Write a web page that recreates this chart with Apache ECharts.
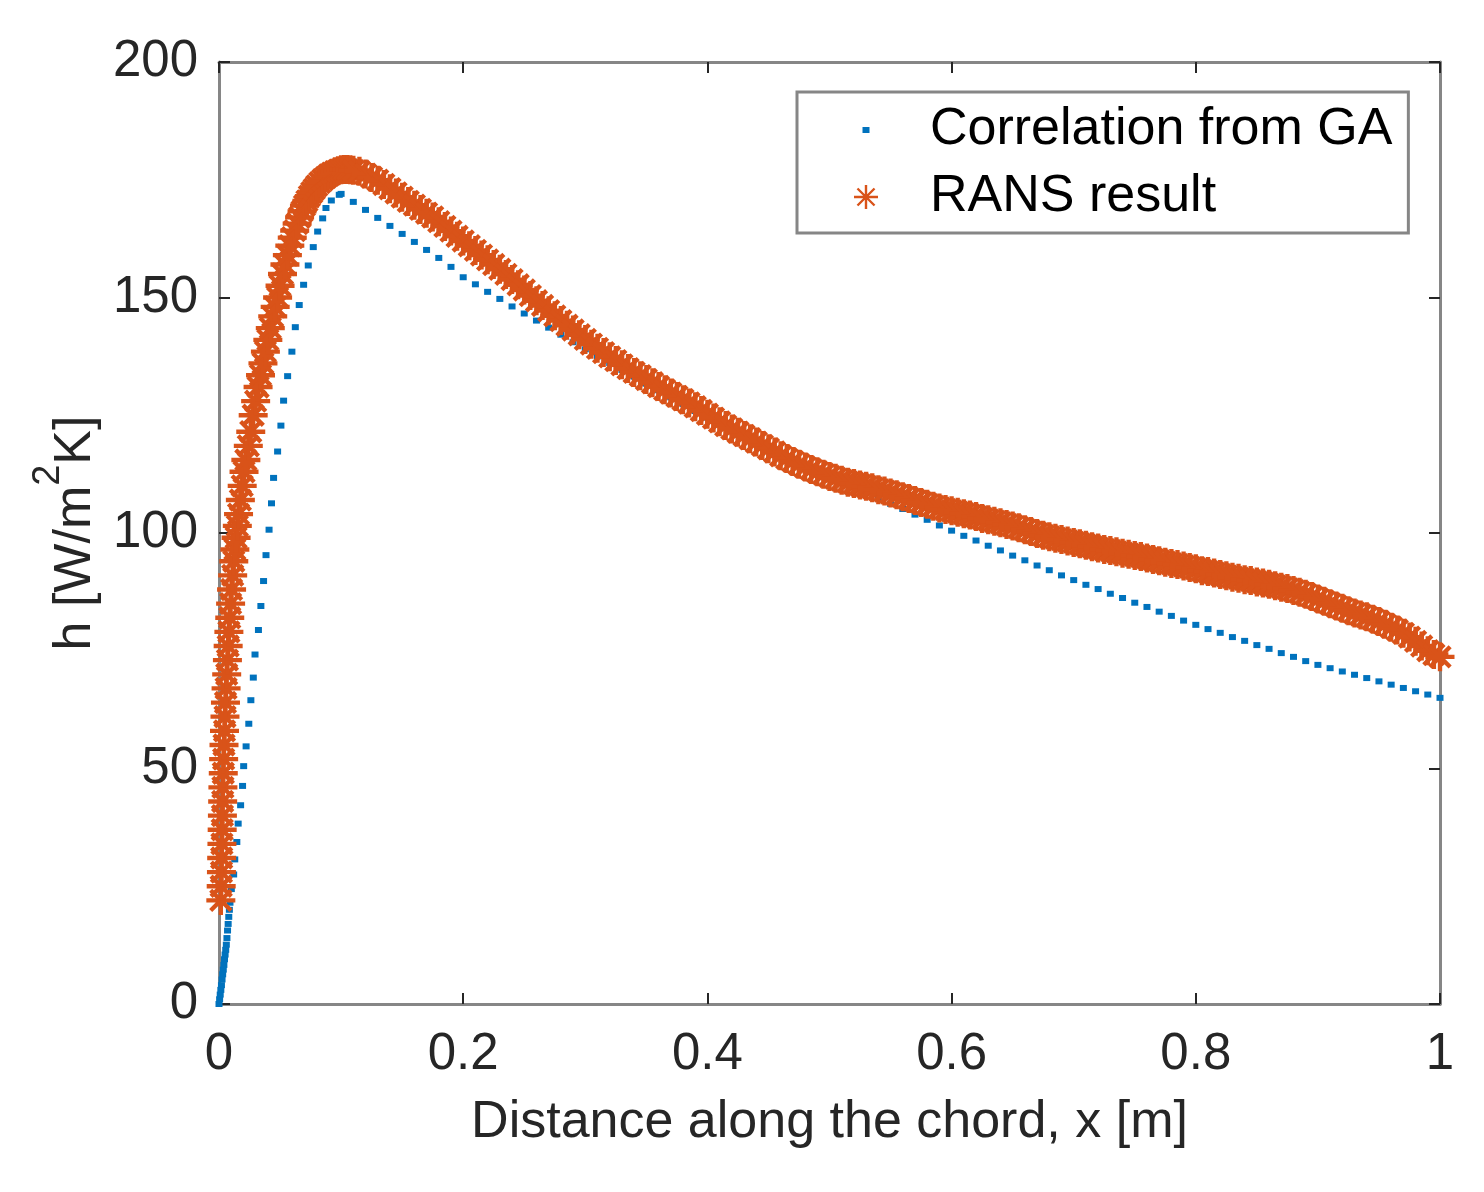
<!DOCTYPE html>
<html>
<head>
<meta charset="utf-8">
<script src="https://cdn.jsdelivr.net/npm/echarts@6/dist/echarts.min.js"></script>
<style>html,body{margin:0;padding:0;background:#fff}#c{width:1484px;height:1192px}</style>
</head>
<body>
<div id="c"></div>
<script>
// ---------- data ----------
const seriesNames = ['Correlation from GA', 'RANS result'];
const xTickValues = [0, 0.2, 0.4, 0.6, 0.8, 1];
const yTickValues = [0, 50, 100, 150, 200];

// Correlation from GA (blue dots)
const corrX = [0,0.0005,0.001,0.0015,0.002,0.0025,0.003,0.0035,0.004,0.0045,0.005,0.0055,0.006,0.0065,0.007,0.0075,0.008,0.0085,0.009,0.0101,
  0.012,0.0129,0.0146,0.0157,0.0177,0.0193,0.0202,0.0222,0.0244,0.0261,0.0281,0.0295,0.0323,0.0343,0.0365,0.0385,0.041,0.043,0.0447,0.048,
  0.0507,0.0529,0.0562,0.0597,0.0625,0.0657,0.0693,0.0731,0.0772,0.0808,0.0849,0.0876,0.092,0.0985,0.1,
  0.11,0.12,0.13,0.14,0.15,0.16,0.17,0.18,0.19,0.20,0.21,0.22,0.23,0.24,0.25,0.26,0.27,0.28,0.29,0.30,
  0.31,0.32,0.33,0.34,0.35,0.36,0.37,0.38,0.39,0.40,0.41,0.42,0.43,0.44,0.45,0.46,0.47,0.48,0.49,0.50,
  0.51,0.52,0.53,0.54,0.55,0.56,0.57,0.58,0.59,0.60,0.61,0.62,0.63,0.64,0.65,0.66,0.67,0.68,0.69,0.70,
  0.71,0.72,0.73,0.74,0.75,0.76,0.77,0.78,0.79,0.80,0.81,0.82,0.83,0.84,0.85,0.86,0.87,0.88,0.89,0.90,
  0.91,0.92,0.93,0.94,0.95,0.96,0.97,0.98,0.99,1.00];
const corrH = [0,1,2,3,4,5.2,6.3,7.3,8.3,9.5,10.5,11.5,12.6,14,15.6,17,18.5,20,21.5,24.4,
  27.5,30.7,34.4,38.3,42.2,46.3,50.5,54.7,59.5,64.5,69.3,74.2,79.4,84.5,89.8,95.3,100.7,106.3,111.7,117.3,
  122.8,128.1,133.3,138.5,143.7,148.4,152.7,156.8,160.7,164,166.8,169,170.6,171.8,172,
  170.3,168.6,166.9,165.2,163.5,161.8,160.1,158.4,156.5,154.3,152.8,151.2,149.7,148.1,146.6,145.1,143.6,142.1,140.5,139.0,
  137.5,136.1,134.6,133.2,131.7,130.3,128.8,127.4,125.9,124.5,123.2,122.0,120.7,119.5,118.2,117.0,115.7,114.5,113.2,112.0,
  110.8,109.7,108.5,107.4,106.2,105.1,103.9,102.8,101.6,100.5,99.4,98.4,97.3,96.3,95.2,94.2,93.1,92.1,91.0,90.0,
  89.0,88.1,87.1,86.2,85.2,84.3,83.3,82.4,81.4,80.5,79.6,78.8,77.9,77.1,76.2,75.4,74.5,73.7,72.8,72.0,
  71.3,70.6,69.9,69.2,68.5,67.8,67.1,66.4,65.7,65.0];

// RANS result (orange asterisks)
const ransX = [0.0015,0.0018,0.002,0.0022,0.0024,0.0026,0.0028,0.003,0.0032,0.0035,0.0038,0.0041,0.0045,0.0049,0.0053,0.0058,0.0063,0.0069,0.0075,0.0081,
  0.0088,0.0095,0.0103,0.0112,0.0121,0.013,0.014,0.015,0.016,0.0175,0.019,0.0205,0.022,0.024,0.026,0.028,0.030,0.032,0.034,0.036,
  0.038,0.040,0.042,0.044,0.046,0.048,0.050,0.052,0.054,0.056,0.058,0.060,0.062,0.064,0.066,0.068,0.070,0.072,0.074,0.076,
  0.078,0.080,0.0825,0.085,0.0875,0.090,0.0925,0.095,0.0975,0.100,0.1025,0.105,0.1075,
  0.110,0.115,0.120,0.125,0.130,0.135,0.140,0.145,0.150,0.155,0.160,0.165,0.170,0.175,0.180,0.185,0.190,0.195,0.200,
  0.205,0.210,0.215,0.220,0.225,0.230,0.235,0.240,0.245,0.250,0.255,0.260,0.265,0.270,0.275,0.280,0.285,0.290,0.295,0.300,
  0.305,0.310,0.315,0.320,0.325,0.330,0.335,0.340,0.345,0.350,0.355,0.360,0.365,0.370,0.375,0.380,0.385,0.390,0.395,0.400,
  0.405,0.410,0.415,0.420,0.425,0.430,0.435,0.440,0.445,0.450,0.455,0.460,0.465,0.470,0.475,0.480,0.485,0.490,0.495,0.500,
  0.505,0.510,0.515,0.520,0.525,0.530,0.535,0.540,0.545,0.550,0.555,0.560,0.565,0.570,0.575,0.580,0.585,0.590,0.595,0.600,
  0.605,0.610,0.615,0.620,0.625,0.630,0.635,0.640,0.645,0.650,0.655,0.660,0.665,0.670,0.675,0.680,0.685,0.690,0.695,0.700,
  0.705,0.710,0.715,0.720,0.725,0.730,0.735,0.740,0.745,0.750,0.755,0.760,0.765,0.770,0.775,0.780,0.785,0.790,0.795,0.800,
  0.805,0.810,0.815,0.820,0.825,0.830,0.835,0.840,0.845,0.850,0.855,0.860,0.865,0.870,0.875,0.880,0.885,0.890,0.895,0.900,
  0.905,0.910,0.915,0.920,0.925,0.930,0.935,0.940,0.945,0.950,0.955,0.960,0.965,0.970,0.975,0.980,0.985,0.990,0.995,1.000];
const ransH = [22,25,28,31,34,37,40,43,46,49,52,55,58,61,64,67,70,73,76,79,
  82,85,88,91,94,96.5,99,101.5,104,107,110,113,115.5,118.5,121.5,125,128,131,133.5,136,
  138.5,141,143.5,146,148,150,152.5,155,157,159,161,162.7,164.2,165.7,167,168.3,169.5,170.5,171.5,172.3,
  173,173.7,174.4,175,175.5,176,176.4,176.7,176.9,177.1,177.2,177.2,177.1,
  177.0,176.8,176.2,175.5,174.9,174.0,173.1,172.2,171.3,170.4,169.6,168.7,167.9,167.1,166.1,165.1,164.1,163.0,162.0,
  161.0,160.0,159.0,158.0,157.0,156.0,154.9,153.8,152.7,151.6,150.4,149.3,148.3,147.2,146.1,145.1,144.1,143.1,142.1,141.1,
  140.1,139.2,138.3,137.4,136.6,135.7,134.9,134.1,133.4,132.6,131.9,131.1,130.4,129.7,129.0,128.3,127.6,126.8,126.0,125.2,
  124.4,123.6,122.8,122.1,121.4,120.7,120.0,119.3,118.6,117.9,117.2,116.4,115.8,115.2,114.6,114.0,113.5,113.0,112.5,112.0,
  111.6,111.2,110.8,110.5,110.2,109.9,109.6,109.2,108.9,108.5,108.1,107.7,107.3,106.9,106.5,106.1,105.7,105.3,105.0,104.7,
  104.4,104.1,103.8,103.5,103.1,102.8,102.5,102.2,101.8,101.5,101.1,100.7,100.3,99.9,99.5,99.2,98.9,98.6,98.3,98.0,
  97.7,97.4,97.1,96.8,96.5,96.3,96.0,95.7,95.5,95.2,95.0,94.7,94.4,94.1,93.8,93.5,93.3,93.0,92.7,92.4,
  92.0,91.8,91.5,91.2,90.9,90.6,90.4,90.1,89.9,89.6,89.4,89.1,88.8,88.5,88.2,87.8,87.4,87.0,86.5,86.0,
  85.5,85.0,84.5,84.0,83.5,83.0,82.6,82.2,81.7,81.2,80.6,80.0,79.4,78.7,77.9,77.0,76.0,75.0,74.2,73.7];

// ---------- styling ----------
const FONT = '"Liberation Sans", Arial, Helvetica, sans-serif';
const TXT = '#262626';
const AXC = '#868686';
const BLUE = '#0072BD';
const ORANGE = '#D95319';
const starPath = 'path://M0,8.5 L20,8.5 L20,11.5 L0,11.5 Z M8.5,0 L11.5,0 L11.5,20 L8.5,20 Z ' +
  'M1.94,4.06 L4.06,1.94 L18.06,15.94 L15.94,18.06 Z M15.94,1.94 L18.06,4.06 L4.06,18.06 L1.94,15.94 Z';
const legendBlueIcon = 'path://M0,0 L0.01,0 L0,0.01 Z M118,30 L117.99,30 L118,29.99 Z M55.5,12 L62.5,12 L62.5,18 L55.5,18 Z';
const legendStarIcon = 'path://M0,0 L0.01,0 L0,0.01 Z M118,30 L117.99,30 L118,29.99 Z ' +
  'M47,13.8 L71,13.8 L71,16.2 L47,16.2 Z M57.8,3 L60.2,3 L60.2,27 L57.8,27 Z ' +
  'M49.64,7.32 L51.32,5.64 L68.36,22.68 L66.68,24.36 Z M66.68,5.64 L68.36,7.32 L51.32,24.36 L49.64,22.68 Z';

const corrData = corrX.map((x, i) => [x, corrH[i]]);
const ransData = ransX.map((x, i) => [x, ransH[i]]);

function axisBase(isX, show) {
  return {
    type: 'value',
    min: isX ? xTickValues[0] : yTickValues[0],
    max: isX ? xTickValues[xTickValues.length - 1] : yTickValues[yTickValues.length - 1],
    interval: isX ? 0.2 : 50,
    axisLine: { show: true, onZero: false, lineStyle: { color: AXC, width: 3 } },
    axisTick: { show: true, inside: true, length: 11, lineStyle: { color: TXT, width: 2 } },
    splitLine: { show: false },
    axisLabel: show ? { show: true, fontSize: 51, lineHeight: 52, color: TXT, fontFamily: FONT, margin: isX ? 25 : 21 } : { show: false }
  };
}

const chart = echarts.init(document.getElementById('c'), null, { renderer: 'canvas' });
chart.setOption({
  animation: false,
  backgroundColor: '#ffffff',
  grid: { left: 219, top: 62, width: 1221, height: 942, containLabel: false },
  xAxis: [
    Object.assign(axisBase(true, true), {
      position: 'bottom',
      name: 'Distance along the chord, x [m]',
      nameLocation: 'middle',
      nameGap: 89,
      nameTextStyle: { fontSize: 52, lineHeight: 60, color: TXT, fontFamily: FONT }
    }),
    Object.assign(axisBase(true, false), { position: 'top' })
  ],
  yAxis: [
    Object.assign(axisBase(false, true), {
      position: 'left',
      name: '{a|h [W/m}{sup|2}{a|K]}',
      nameLocation: 'middle',
      nameGap: 115,
      nameTextStyle: {
        fontSize: 52, color: TXT, fontFamily: FONT,
        rich: {
          a: { fontSize: 52, lineHeight: 72, verticalAlign: 'bottom', color: TXT, fontFamily: FONT },
          sup: { fontSize: 38, lineHeight: 38, verticalAlign: 'top', color: TXT, fontFamily: FONT }
        }
      }
    }),
    Object.assign(axisBase(false, false), { position: 'right' })
  ],
  legend: {
    orient: 'vertical',
    left: 797,
    top: 92,
    padding: [10, 16, 8, 10],
    itemWidth: 118,
    itemHeight: 30,
    itemGap: 11,
    selectedMode: false,
    borderColor: AXC,
    borderWidth: 3,
    backgroundColor: '#ffffff',
    textStyle: { fontSize: 52, lineHeight: 56, color: '#000', fontFamily: FONT },
    data: [
      { name: seriesNames[0], icon: legendBlueIcon },
      { name: seriesNames[1], icon: legendStarIcon }
    ]
  },
  series: [
    {
      name: seriesNames[0],
      type: 'scatter',
      data: corrData,
      symbol: 'rect',
      symbolSize: [7, 6],
      clip: false,
      itemStyle: { color: BLUE, opacity: 1 },
      z: 2
    },
    {
      name: seriesNames[1],
      type: 'scatter',
      data: ransData,
      symbol: starPath,
      symbolSize: 29,
      clip: false,
      itemStyle: { color: ORANGE, opacity: 1 },
      z: 3
    }
  ]
});
</script>
</body>
</html>
